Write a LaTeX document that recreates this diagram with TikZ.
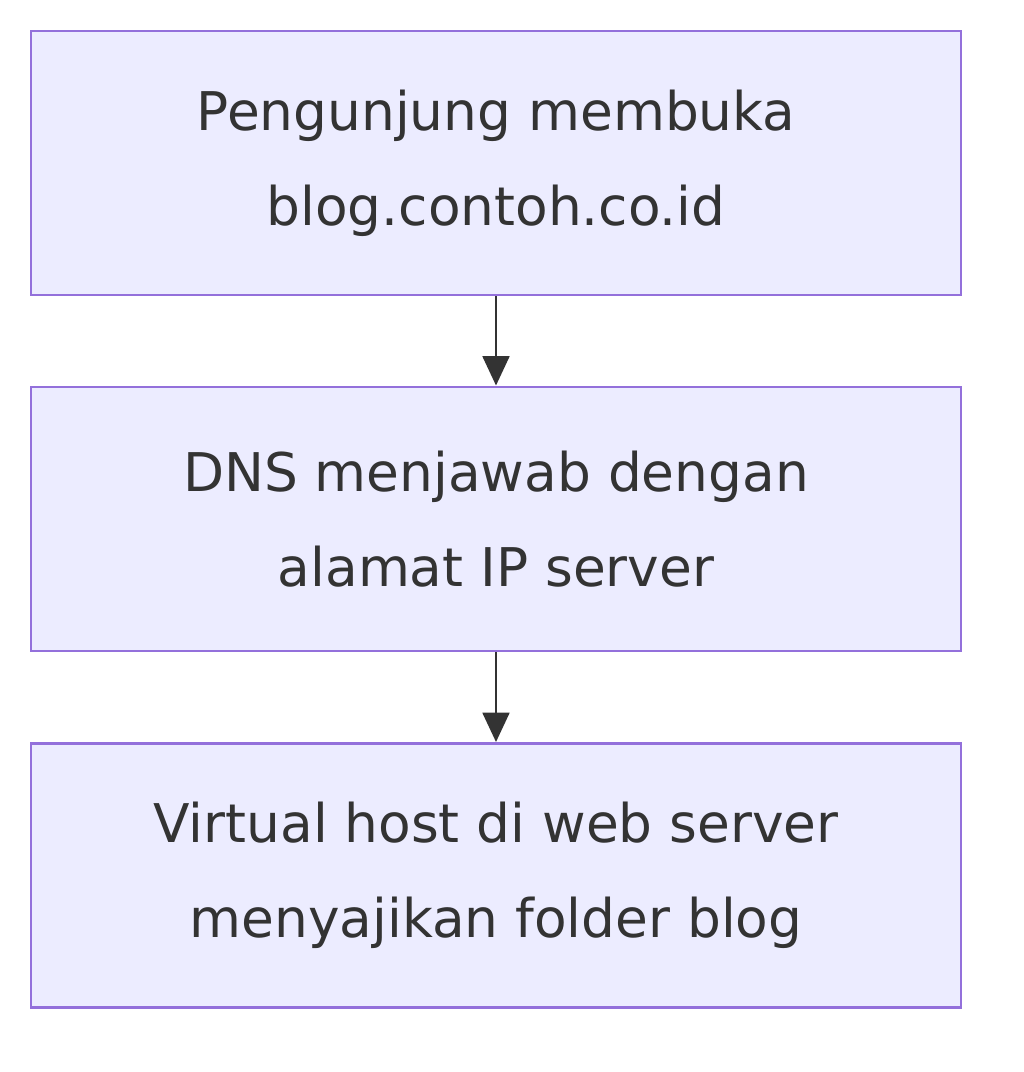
\documentclass[tikz,border=0pt]{standalone}
\usepackage{fontspec}
\setmainfont{DejaVu Sans}
\usetikzlibrary{arrows.meta}
\definecolor{bfill}{HTML}{ECECFF}
\definecolor{bline}{HTML}{9370DB}
\definecolor{txt}{HTML}{333333}
\begin{document}
\begin{tikzpicture}[x=0.75pt,y=-0.75pt,
  box/.style={draw=bline,fill=bfill,line width=2.2pt,minimum width=930*0.75pt,minimum height=264*0.75pt,inner sep=0pt,align=center,text=txt,font=\fontsize{40}{71}\selectfont},
  arr/.style={draw=txt,line width=2.2pt,-{Triangle[length=22pt,width=20pt]}}]
\useasboundingbox (0,0) rectangle (1024,1072);
\node[box] (a) at (496,163) {Pengunjung membuka\\blog.contoh.co.id};
\node[box] (b) at (496,519) {DNS menjawab dengan\\alamat IP server};
\node[box] (c) at (496,875.5) {Virtual host di web server\\menyajikan folder blog};
\draw[arr] (a) -- (b);
\draw[arr] (b) -- (c);
\end{tikzpicture}
\end{document}
